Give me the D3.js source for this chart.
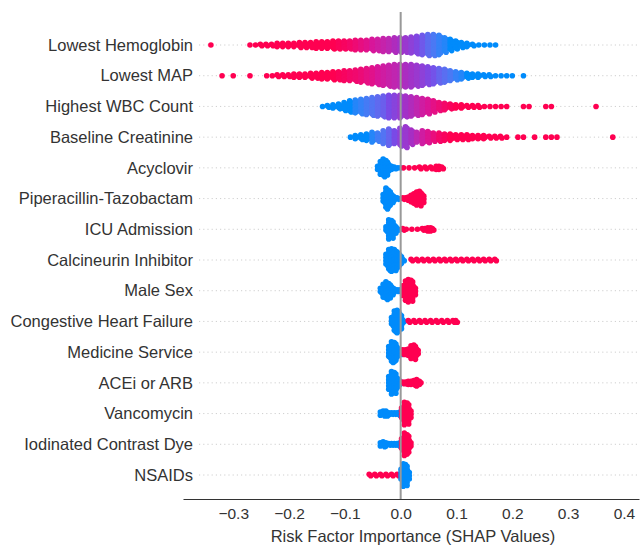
<!DOCTYPE html>
<html>
<head>
<meta charset="utf-8">
<script src="https://cdn.jsdelivr.net/npm/d3@7"></script>
<style>
  body { margin: 0; background: #fff; }
  svg text { font-family: "Liberation Sans", Arial, sans-serif; fill: #333; }
</style>
</head>
<body>
<script>
// feature names, top to bottom
var features = ["Lowest Hemoglobin", "Lowest MAP", "Highest WBC Count", "Baseline Creatinine",
  "Acyclovir", "Piperacillin-Tazobactam", "ICU Admission", "Calcineurin Inhibitor", "Male Sex",
  "Congestive Heart Failure", "Medicine Service", "ACEi or ARB", "Vancomycin",
  "Iodinated Contrast Dye", "NSAIDs"];

var xTicks = [-0.3, -0.2, -0.1, 0.0, 0.1, 0.2, 0.3, 0.4];

// each bin: [shap value, number of stacked points, feature value (0 = low/blue, 1 = high/red)]
var hemoglobin = [[-0.34,1,1],
  [-0.27,1,1],[-0.26,1,1],[-0.25,2,1],[-0.24,2,1],[-0.23,2,1],[-0.22,3,1],[-0.21,3,1],[-0.20,3,1],
  [-0.19,3,1],[-0.18,4,1],[-0.17,4,1],[-0.16,4,1],[-0.15,5,1],[-0.14,5,1],[-0.13,5,1],[-0.12,6,1],
  [-0.11,6,0.97],[-0.10,6,0.95],[-0.09,6,0.92],[-0.08,7,0.88],[-0.07,7,0.84],[-0.06,7,0.8],
  [-0.05,8,0.75],[-0.04,8,0.7],[-0.03,9,0.65],[-0.02,9,0.6],[-0.01,10,0.54],[0.00,10,0.48],
  [0.01,10,0.42],[0.02,11,0.35],[0.03,12,0.28],[0.04,13,0.2],[0.05,14,0.13],[0.06,14,0.08],
  [0.07,13,0.04],[0.08,10,0.02],[0.09,8,0],[0.10,6,0],[0.11,4,0],[0.12,3,0],[0.13,2,0],
  [0.14,1,0],[0.15,1,0],[0.16,1,0],[0.17,1,0]];

var lowestMap = [[-0.32,1,1],[-0.30,1,1],[-0.27,1,1],
  [-0.24,1,1],[-0.23,1,1],[-0.22,2,1],[-0.21,2,1],[-0.20,2,1],[-0.19,3,1],[-0.18,3,1],[-0.17,3,1],
  [-0.16,4,1],[-0.15,4,1],[-0.14,5,1],[-0.13,5,1],[-0.12,6,1],[-0.11,6,0.97],[-0.10,7,0.95],
  [-0.09,7,0.92],[-0.08,8,0.9],[-0.07,9,0.87],[-0.06,10,0.83],[-0.05,11,0.8],[-0.04,12,0.75],
  [-0.03,13,0.7],[-0.02,14,0.66],[-0.01,15,0.62],[0.00,15,0.58],[0.01,15,0.52],[0.02,15,0.47],
  [0.03,14,0.42],[0.04,13,0.35],[0.05,12,0.28],[0.06,11,0.22],[0.07,10,0.16],[0.08,9,0.12],
  [0.09,7,0.08],[0.10,6,0.04],[0.11,5,0.02],[0.12,4,0],[0.13,3,0],[0.14,3,0],[0.15,2,0],
  [0.16,2,0],[0.17,1,0],[0.18,1,0],[0.19,1,0],[0.20,1,0],[0.22,1,0]];

var wbc = [[-0.14,1,0],[-0.13,2,0],[-0.12,3,0],[-0.11,4,0],[-0.10,6,0],[-0.09,8,0],[-0.08,9,0.02],
  [-0.07,10,0.04],[-0.06,11,0.07],[-0.05,12,0.1],[-0.04,13,0.14],[-0.03,14,0.18],[-0.02,15,0.25],
  [-0.01,15,0.32],[0.00,15,0.4],[0.01,14,0.48],[0.02,13,0.55],[0.03,12,0.62],[0.04,11,0.7],
  [0.05,10,0.76],[0.06,8,0.82],[0.07,6,0.87],[0.08,5,0.92],[0.09,4,0.96],[0.10,3,1],[0.11,3,1],
  [0.12,2,1],[0.13,2,1],[0.14,2,1],[0.15,1,1],[0.16,1,1],[0.17,1,1],[0.18,1,1],[0.19,1,1],
  [0.22,1,1],[0.23,1,1],[0.26,1,1],[0.27,1,1],[0.35,1,1]];

var creatinine = [[-0.09,1,0],[-0.08,3,0],[-0.07,4,0],[-0.06,5,0],[-0.05,7,0.02],[-0.04,6,0.06],
  [-0.03,9,0.1],[-0.02,11,0.16],[-0.01,9,0.25],[0.00,12,0.35],[0.01,14,0.42],[0.02,10,0.5],
  [0.03,7,0.6],[0.04,9,0.7],[0.05,8,0.78],[0.06,6,0.85],[0.07,6,0.92],[0.08,5,0.96],[0.09,5,1],
  [0.10,4,1],[0.11,4,1],[0.12,4,1],[0.13,3,1],[0.14,3,1],[0.15,3,1],[0.16,2,1],[0.17,2,1],
  [0.18,2,1],[0.19,1,1],[0.21,1,1],[0.22,1,1],[0.24,1,1],[0.26,1,1],[0.27,1,1],[0.28,1,1],[0.38,1,1]];

var acyclovir = [[-0.040,3,0],[-0.035,9,0],[-0.030,12,0],[-0.025,10,0],[-0.020,5,0],[-0.015,3,0],
  [-0.010,2,0],[-0.005,1,0],[0.000,1,0],
  [0.005,1,1],[0.015,1,1],[0.025,1,1],[0.035,2,1],[0.045,2,1],[0.055,2,1],[0.065,3,1],[0.070,3,1],[0.075,2,1]];

var piperacillin = [[-0.030,6,0],[-0.025,14,0],[-0.020,11,0],[-0.015,6,0],[-0.010,3,0],[-0.005,2,0],[0.000,1,0],
  [0.005,2,1],[0.010,2,1],[0.015,3,1],[0.020,5,1],[0.025,7,1],[0.030,9,1],[0.035,10,1],[0.040,6,1]];

var icu = [[-0.025,4,0],[-0.020,13,0],[-0.015,12,0],[-0.010,6,0],[-0.005,2,0],[0.000,1,0],
  [0.005,2,1],[0.010,1,1],[0.020,1,1],[0.030,1,1],[0.040,2,1],[0.045,2,1],[0.050,3,1],[0.055,3,1],[0.058,2,1]];

var calcineurin = [[-0.025,8,0],[-0.020,14,0],[-0.015,15,0],[-0.010,14,0],[-0.005,11,0],[0.000,7,0],[0.005,2,0],
  [0.02,2,1],[0.03,2,1],[0.04,2,1],[0.05,2,1],[0.06,2,1],[0.07,2,1],[0.08,2,1],[0.09,2,1],
  [0.10,2,1],[0.11,2,1],[0.12,2,1],[0.13,2,1],[0.14,2,1],[0.15,2,1],[0.16,2,1],[0.17,2,1]];

var maleSex = [[-0.035,4,0],[-0.030,9,0],[-0.025,12,0],[-0.020,10,0],[-0.015,6,0],[-0.010,3,0],[-0.005,2,0],[0.000,2,0],
  [0.005,7,1],[0.010,13,1],[0.015,15,1],[0.020,14,1],[0.025,6,1]];

var chf = [[-0.015,6,0],[-0.010,14,0],[-0.005,15,0],[0.000,10,0],[0.005,3,0],
  [0.015,2,1],[0.025,2,1],[0.035,2,1],[0.045,2,1],[0.055,2,1],[0.065,2,1],[0.075,2,1],[0.085,2,1],[0.095,2,1],[0.100,2,1]];

var medicine = [[-0.020,8,0],[-0.015,14,0],[-0.010,13,0],[-0.005,7,0],[0.000,4,0],
  [0.005,4,1],[0.010,4,1],[0.015,5,1],[0.020,9,1],[0.025,10,1],[0.030,5,1]];

var acei = [[-0.020,9,0],[-0.015,15,0],[-0.010,14,0],[-0.005,7,0],[0.000,3,0],
  [0.005,2,1],[0.010,2,1],[0.015,3,1],[0.020,3,1],[0.025,4,1],[0.030,5,1],[0.035,3,1]];

var vancomycin = [[-0.035,3,0],[-0.030,4,0],[-0.025,4,0],[-0.020,2,0],[-0.015,2,0],[-0.010,2,0],[-0.005,2,0],[0.000,3,0],
  [0.003,8,1],[0.008,15,1],[0.013,14,1],[0.017,6,1]];

var contrast = [[-0.035,3,0],[-0.030,4,0],[-0.025,3,0],[-0.020,2,0],[-0.015,2,0],[-0.010,2,0],[-0.005,2,0],[0.000,3,0],
  [0.003,8,1],[0.008,15,1],[0.013,13,1],[0.017,5,1]];

var nsaids = [[-0.055,2,1],[-0.045,2,1],[-0.035,2,1],[-0.025,2,1],[-0.015,2,1],[-0.005,2,1],
  [0.002,8,0],[0.006,15,0],[0.010,14,0],[0.014,6,0]];

var swarms = [hemoglobin, lowestMap, wbc, creatinine, acyclovir, piperacillin, icu, calcineurin,
  maleSex, chf, medicine, acei, vancomycin, contrast, nsaids];

var width = 642, height = 546;

var svg = d3.select("body").append("svg")
  .attr("width", width)
  .attr("height", height);

var xScale = d3.scaleLinear().domain([-0.39, 0.427]).range([183, 639]);
var yScale = d3.scalePoint().domain(features).range([45, 475]);
// blue -> purple -> red, like the shap colour bar
var color = d3.piecewise(d3.interpolateLab, ["#008bfb", "#7a4ae6", "#a62fc4", "#d8169a", "#ff0051"]);

// dotted row guides
svg.append("g").selectAll("line")
  .data(features).enter()
  .append("line")
  .attr("x1", 199).attr("x2", 640)
  .attr("y1", function(d) { return yScale(d); })
  .attr("y2", function(d) { return yScale(d); })
  .attr("stroke", "#cfcfcf")
  .attr("stroke-width", 1)
  .attr("stroke-dasharray", "1.2,3");

// feature labels
svg.append("g").selectAll("text")
  .data(features).enter()
  .append("text")
  .attr("x", 193)
  .attr("y", function(d) { return yScale(d); })
  .attr("dy", "0.35em")
  .attr("text-anchor", "end")
  .style("font-size", "16.5px")
  .text(function(d) { return d; });

// expand bins into points
var points = [];
swarms.forEach(function(bins, i) {
  var yc = yScale(features[i]);
  bins.forEach(function(b) {
    var n = b[1];
    for (var k = 0; k < n; k++) {
      points.push({
        x: xScale(b[0]) + (n > 1 ? (k % 2 ? 0.8 : -0.8) : 0),
        y: yc + (k - (n - 1) / 2) * 1.6,
        c: b[2]
      });
    }
  });
});

svg.append("g").selectAll("circle")
  .data(points).enter()
  .append("circle")
  .attr("cx", function(d) { return d.x; })
  .attr("cy", function(d) { return d.y; })
  .attr("r", 2.8)
  .attr("fill", function(d) { return color(d.c); });

// zero line
svg.append("line")
  .attr("x1", xScale(0)).attr("x2", xScale(0))
  .attr("y1", 12).attr("y2", 499)
  .attr("stroke", "#999")
  .attr("stroke-width", 2);

// x axis
var xAxis = d3.axisBottom(xScale)
  .tickValues(xTicks)
  .tickSize(0)
  .tickPadding(9)
  .tickFormat(function(d) { return d3.format(".1f")(d).replace("-", "\u2212"); });

var gx = svg.append("g")
  .attr("transform", "translate(0,499)")
  .call(xAxis);
gx.select(".domain").attr("stroke", "#333").attr("stroke-width", 1.2);
gx.selectAll("text").style("font-size", "15.5px").style("fill", "#333");

svg.append("text")
  .attr("x", 413)
  .attr("y", 542)
  .attr("text-anchor", "middle")
  .style("font-size", "16.5px")
  .text("Risk Factor Importance (SHAP Values)");
</script>
</body>
</html>
